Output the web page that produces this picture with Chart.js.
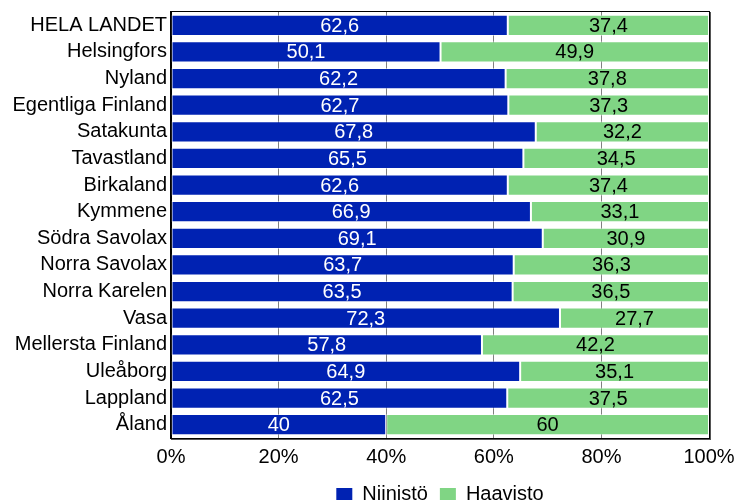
<!DOCTYPE html>
<html>
<head>
<meta charset="utf-8">
<script src="https://cdn.jsdelivr.net/npm/chart.js@4/dist/chart.umd.min.js"></script>
<style>
html,body{margin:0;padding:0;background:#fff;}
#wrap{width:734px;height:503px;position:relative;}
</style>
</head>
<body>
<div id="wrap"><canvas id="c" width="734" height="503"></canvas></div>
<script>
const categories = ["HELA LANDET","Helsingfors","Nyland","Egentliga Finland","Satakunta","Tavastland","Birkaland","Kymmene","Södra Savolax","Norra Savolax","Norra Karelen","Vasa","Mellersta Finland","Uleåborg","Lappland","Åland"];
const niinisto = [62.6,50.1,62.2,62.7,67.8,65.5,62.6,66.9,69.1,63.7,63.5,72.3,57.8,64.9,62.5,40];
const haavisto = [37.4,49.9,37.8,37.3,32.2,34.5,37.4,33.1,30.9,36.3,36.5,27.7,42.2,35.1,37.5,60];
const seriesNames = ["Niinistö","Haavisto"];
const xTicks = [0,20,40,60,80,100];

const FONT = "'Liberation Sans', Arial, sans-serif";
const FS = 20;
const BLUE = '#0022b2';
const GREEN = '#80d584';

const labelPlugin = {
  id: 'valueLabels',
  afterDatasetsDraw(chart) {
    const ctx = chart.ctx;
    ctx.save();
    ctx.font = FS + 'px ' + FONT;
    ctx.textAlign = 'center';
    ctx.textBaseline = 'middle';
    chart.data.datasets.forEach((ds, di) => {
      const meta = chart.getDatasetMeta(di);
      ctx.fillStyle = di === 0 ? '#ffffff' : '#000000';
      meta.data.forEach((el, i) => {
        const v = ds.data[i];
        const cx = (el.x + el.base) / 2;
        ctx.fillText(String(v).replace('.', ','), cx, el.y + 1);
      });
    });
    ctx.restore();
  }
};

const framePlugin = {
  id: 'frame',
  afterDatasetsDraw(chart) {
    const a = chart.chartArea;
    const ctx = chart.ctx;
    ctx.save();
    ctx.strokeStyle = '#000';
    ctx.lineWidth = 1;
    ctx.strokeRect(Math.round(a.left) - 0.5, Math.round(a.top) - 0.5, Math.round(a.right - a.left) + 1, Math.round(a.bottom - a.top) + 1);
    ctx.strokeStyle = '#555';
    ctx.beginPath();
    ctx.moveTo(Math.round(a.right) + 1.5, Math.round(a.top));
    ctx.lineTo(Math.round(a.right) + 1.5, Math.round(a.bottom) + 2);
    ctx.moveTo(Math.round(a.left), Math.round(a.bottom) + 1.5);
    ctx.lineTo(Math.round(a.right) + 2, Math.round(a.bottom) + 1.5);
    ctx.stroke();
    ctx.restore();
  }
};

new Chart(document.getElementById('c'), {
  type: 'bar',
  data: {
    labels: categories,
    datasets: [
      { label: seriesNames[0], data: niinisto, backgroundColor: BLUE, borderColor: 'rgba(255,255,255,0.45)', borderWidth: 1, borderSkipped: false, categoryPercentage: 1, barPercentage: 0.8 },
      { label: seriesNames[1], data: haavisto, backgroundColor: GREEN, borderColor: 'rgba(255,255,255,0.45)', borderWidth: 1, borderSkipped: false, categoryPercentage: 1, barPercentage: 0.8 }
    ]
  },
  options: {
    indexAxis: 'y',
    responsive: false,
    animation: false,
    devicePixelRatio: 1,
    layout: { padding: { top: 12, right: 0, left: 0, bottom: -11 } },
    plugins: {
      legend: {
        position: 'bottom',
        fullSize: false,
        labels: {
          font: { family: FONT, size: FS },
          color: '#000',
          boxWidth: 16,
          boxHeight: 12,
          padding: 12,
          generateLabels(chart) {
            return chart.data.datasets.map((ds, i) => ({
              text: ds.label, fillStyle: ds.backgroundColor, strokeStyle: ds.backgroundColor,
              lineWidth: 0, hidden: false, datasetIndex: i
            }));
          }
        }
      },
      tooltip: { enabled: false }
    },
    scales: {
      x: {
        stacked: true,
        min: 0, max: 100,
        afterBuildTicks(scale) { scale.ticks = xTicks.map(v => ({ value: v })); },
        afterFit(scale) { scale.height = 34; scale.paddingRight = 25; scale.paddingLeft = 0; },
        ticks: { font: { family: FONT, size: FS }, color: '#000', padding: 7, callback: v => v + '%' },
        grid: { color: '#808080', lineWidth: 1, drawTicks: false },
        border: { display: true, color: '#000' }
      },
      y: {
        stacked: true,
        afterFit(scale) { scale.width = 171; scale.paddingTop = 0; scale.paddingBottom = 0; },
        ticks: { font: { family: FONT, size: FS }, color: '#000', padding: 4, autoSkip: false },
        grid: { display: false, drawTicks: false },
        border: { display: true, color: '#000' }
      }
    }
  },
  plugins: [labelPlugin, framePlugin]
});
</script>
</body>
</html>
